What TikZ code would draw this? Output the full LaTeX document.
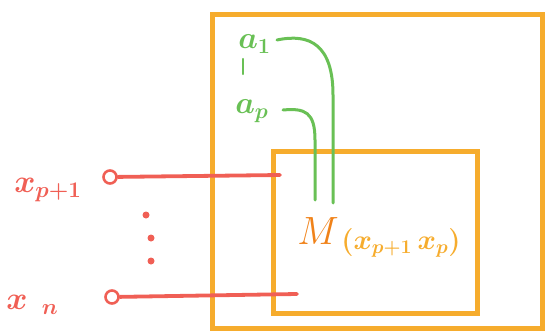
\documentclass[tikz,border=0pt]{standalone}
\begin{document}
\begin{tikzpicture}[x=1pt,y=-1pt,
  orng/.style={draw=boxorange,line width=4.5pt},
  redl/.style={draw=penred,line width=3.8pt,line cap=round},
  grn/.style={draw=pengreen,line width=3pt,line cap=round},
  port/.style={circle,draw=penred,line width=2.6pt,minimum size=13pt,inner sep=0pt},
  dotn/.style={circle,fill=penred,minimum size=7pt,inner sep=0pt},
  lblr/.style={text=penred,font=\huge\boldmath,inner sep=0pt,scale=1.55},
  lblg/.style={text=pengreen,font=\huge\boldmath,inner sep=0pt,scale=1.5},
]
\definecolor{boxorange}{RGB}{246,172,45}
\definecolor{penred}{RGB}{240,95,85}
\definecolor{pengreen}{RGB}{105,192,85}
\definecolor{morange}{RGB}{240,130,25}
\useasboundingbox (0,0) rectangle (548,332);
% boxes
\node[orng,minimum width=330pt,minimum height=314pt,inner sep=0pt,anchor=north west] (outer) at (210,12) {};
\node[orng,minimum width=204pt,minimum height=162pt,inner sep=0pt,anchor=north west] (inner) at (271,149) {};
% red inputs
\node[port] (p1) at (110,177) {};
\node[port] (pn) at (112,297) {};
\coordinate (e1) at (280,175);
\coordinate (en) at (297,294);
\draw[redl] (p1) -- (e1);
\draw[redl] (pn) -- (en);
\node[lblr,anchor=west] (l1) at (14,190) {$x_{p+1}$};
\node[lblr,anchor=west] (ln) at (6,305) {$x_{\;\;n}$};
\node[dotn] (d1) at (146,215) {};
\node[dotn] (d2) at (151,238) {};
\node[dotn] (d3) at (151,261) {};
% green params
\node[lblg,anchor=west] (a1) at (238,44) {$a_1$};
\node[lblg,anchor=west] (ap) at (235,111) {$a_p$};
\draw[grn,line width=2.4pt] (243,59) -- (243,74);
\coordinate (m1) at (333,203);
\coordinate (mp) at (315,200);
\coordinate (s1) at (277,40);
\coordinate (sp) at (283,110);
\draw[grn] (s1) .. controls (310,33) and (333,45) .. (333,95) -- (m1);
\draw[grn] (sp) .. controls (305,108) and (315,112) .. (315,140) -- (mp);
% M label
\node[text=morange,font=\huge,inner sep=0pt,scale=1.9] (M) at (318,231) {$M$};
\node[text=boxorange,font=\huge\boldmath,anchor=west,inner sep=0pt,scale=1.35] (args) at (341,243) {$(x_{p+1}\, x_p)$};
\end{tikzpicture}
\end{document}
